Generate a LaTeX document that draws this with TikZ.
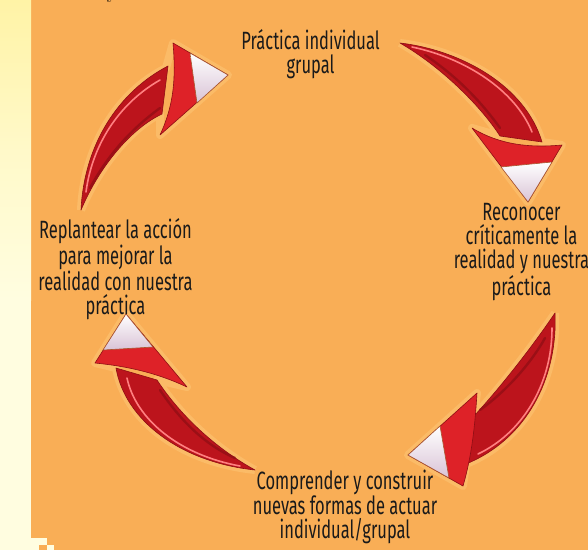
\documentclass[tikz,border=0pt]{standalone}
\usepackage{fontspec}
\setmainfont{Fira Sans}[FakeStretch=0.66]
\newfontfamily\serifyfont{Latin Modern Roman}
\definecolor{bgorange}{HTML}{F9AE56}
\definecolor{stripA}{HTML}{FFF3A6}
\definecolor{stripB}{HTML}{FFFDE0}
\definecolor{arrdark}{HTML}{8E0E14}
\definecolor{arrbody}{HTML}{BC141C}
\definecolor{arrhead}{HTML}{DE2228}
\definecolor{hlpink}{HTML}{FF8080}
\definecolor{tiplav}{HTML}{D9C3D6}
\definecolor{tipedge}{HTML}{A8562E}
\definecolor{glowcol}{HTML}{FDC878}
\definecolor{textcol}{HTML}{1A1A1A}
\tikzset{
  glow/.style={draw=glowcol, line width=8pt, line join=round, opacity=0.5},
  bodyfill/.style={fill=arrbody, draw=arrdark, line width=0.6pt, line join=round},
  headfill/.style={fill=arrhead, draw=arrdark, line width=0.6pt, line join=round},
  tipfill/.style={top color=white, bottom color=tiplav, draw=tipedge, line width=0.6pt, line join=round},
  hl/.style={draw=hlpink, line width=1.6pt, line cap=round},
  shadowline/.style={draw=arrdark, line width=2.4pt, line cap=round, opacity=0.7},
  lbl/.style={align=center, text=textcol, inner sep=0pt, font=\fontsize{25}{24}\selectfont}
}
\begin{document}
\begin{tikzpicture}[x=1pt,y=-1pt]
\useasboundingbox (0,0) rectangle (588,550);
\fill[bgorange] (0,0) rectangle (588,550);
\shade[top color=stripA, bottom color=stripB, middle color=stripB!60!stripA] (0,0) rectangle (31,300);
\fill[stripB] (0,300) rectangle (31,550);
\fill[stripB] (0,538) rectangle (47,545);
\fill[stripB] (0,545) rectangle (39,550);
\fill[stripB] (47,545) rectangle (54,550);
\node[anchor=base, text=black, font=\serifyfont\fontsize{20}{20}\selectfont] (ytop) at (112,-2) {y};

% ---- Arrow 1 (left -> top)
\path[glow] (81,210) .. controls (84,145) and (118,92) .. (166,68) -- (173,43) -- (228,75) -- (160,135) -- (160,114) .. controls (132,128) and (100,165) .. (81,210);
\path[bodyfill] (81,210) .. controls (84,145) and (118,92) .. (168,66) -- (162,114) .. controls (132,128) and (100,165) .. (81,210) -- cycle;
\path[shadowline] (90,188) .. controls (108,155) and (130,130) .. (160,108);
\path[headfill] (173,43) -- (228,75) -- (160,135) .. controls (174,105) and (176,78) .. (173,43) -- cycle;
\path[tipfill] (190,53) -- (228,75) -- (197,103) -- cycle;
\path[hl] (86,192) .. controls (92,146) and (118,104) .. (160,80);

% ---- Arrow 2 (top -> right)
\path[glow] (400,43) .. controls (460,50) and (525,85) .. (542,142) -- (562,145) -- (528,202) -- (472,128) -- (500,136) .. controls (480,105) and (440,66) .. (400,43);
\path[bodyfill] (400,43) .. controls (460,50) and (525,85) .. (542,142) -- (500,136) .. controls (480,105) and (440,66) .. (400,43) -- cycle;
\path[shadowline] (425,55) .. controls (455,75) and (480,100) .. (500,128);
\path[headfill] (472,128) -- (528,202) -- (562,145) .. controls (530,148) and (500,145) .. (472,128) -- cycle;
\path[tipfill] (501,167) -- (528,202) -- (552,162) -- cycle;
\path[hl] (412,47) .. controls (465,58) and (515,90) .. (532,132);

% ---- Arrow 3 (right -> bottom)
\path[glow] (555,313) .. controls (558,380) and (525,440) .. (466,464) -- (463,486) -- (408,455) -- (477,393) -- (474,416) .. controls (498,390) and (530,350) .. (555,313);
\path[bodyfill] (555,313) .. controls (558,380) and (525,440) .. (466,464) -- (474,416) .. controls (498,390) and (530,350) .. (555,313) -- cycle;
\path[shadowline] (545,338) .. controls (530,365) and (505,392) .. (480,410);
\path[headfill] (477,393) -- (408,455) -- (463,486) .. controls (472,455) and (475,425) .. (477,393) -- cycle;
\path[tipfill] (440,426) -- (408,455) -- (449,478) -- cycle;
\path[hl] (552,328) .. controls (552,385) and (522,433) .. (478,454);

% ---- Arrow 4 (bottom -> left)
\path[glow] (255,470) .. controls (180,462) and (125,420) .. (116,368) -- (95,363) -- (126,314) -- (187,387) -- (157,380) .. controls (180,415) and (215,448) .. (255,470);
\path[bodyfill] (255,470) .. controls (180,462) and (125,420) .. (116,368) -- (157,380) .. controls (180,415) and (215,448) .. (255,470) -- cycle;
\path[shadowline] (235,458) .. controls (205,445) and (180,420) .. (160,390);
\path[headfill] (95,363) -- (126,314) -- (187,387) .. controls (155,372) and (125,366) .. (95,363) -- cycle;
\path[tipfill] (103,350) -- (126,314) -- (153,347) -- cycle;
\path[hl] (240,466) .. controls (180,455) and (136,420) .. (127,378);

% ---- Labels
\node[lbl] (p1) at (310.5,54) {Práctica individual\\grupal};
\node[lbl] (p2) at (521.5,252) {Reconocer\\críticamente la\\realidad y nuestra\\práctica};
\node[lbl] (p3) at (345,507) {Comprender y construir\\nuevas formas de actuar\\individual/grupal};
\node[lbl] (p4) at (115.5,269) {Replantear la acción\\para mejorar la\\realidad con nuestra\\práctica};
\end{tikzpicture}
\end{document}
